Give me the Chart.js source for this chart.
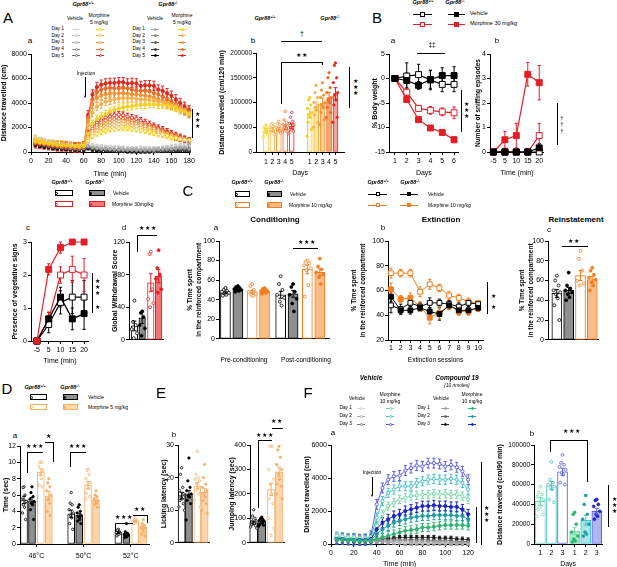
<!DOCTYPE html>
<html>
<head>
<meta charset="utf-8">
<script src="https://cdn.jsdelivr.net/npm/chart.js"></script>
<style>
  body { margin: 0; background: #fff; }
  #fig { position: relative; width: 617px; height: 567px; overflow: hidden; background: #fff;
         font-family: 'Liberation Sans', Arial, sans-serif; color: #000; }
  #fig canvas { position: absolute; }
  .tx { position: absolute; white-space: nowrap; line-height: 1; }
  sup { font-size: 65%; line-height: 0; vertical-align: 0.5em; }
</style>
</head>
<body>
<div id="fig"></div>
<script>
// ---------- data : panel A (morphine 5 mg/kg locomotion) ----------
const timeA = [5,10,15,20,25,30,35,40,45,50,55,60,65,70,75,80,85,90,95,100,105,110,115,120,125,130,135,140,145,150,155,160,165,170,175,180];
const aMorKO = [
  [900,800,750,700,650,600,550,550,500,500,450,500,1500,2300,2700,2900,3100,3300,3450,3550,3650,3700,3750,3800,3850,3850,3900,3900,3850,3850,3800,3700,3600,3400,3300,3100],
  [1000,850,800,700,650,600,600,550,500,450,450,550,2200,3200,3700,3900,4100,4200,4300,4350,4400,4400,4400,4350,4300,4300,4250,4200,4100,4000,3900,3800,3700,3500,3300,3100],
  [800,750,700,650,600,550,500,500,450,450,400,500,2600,3900,4400,4600,4700,4750,4800,4800,4800,4750,4700,4700,4650,4600,4550,4450,4300,4200,4000,3900,3800,3600,3400,3200],
  [750,700,650,600,550,500,450,450,400,400,400,450,2800,4300,4900,5100,5200,5250,5200,5200,5250,5200,5100,5000,5000,5000,4950,4800,4700,4500,4300,4100,3900,3700,3500,3300],
  [700,650,600,550,500,450,450,400,400,350,350,450,3000,4700,5300,5500,5600,5650,5650,5700,5700,5600,5650,5600,5400,5450,5450,5400,5100,5000,4800,4600,4300,4000,3700,3400]
];
const aMorWT = [
  [1100,950,850,750,700,650,600,550,550,500,500,500,900,1300,1500,1650,1750,1850,1900,1950,1950,1950,1900,1850,1800,1700,1650,1550,1450,1400,1300,1200,1150,1050,1000,950],
  [1000,900,800,700,650,600,550,550,500,450,450,500,1100,1500,1750,1950,2050,2150,2200,2250,2250,2200,2150,2100,2000,1900,1800,1700,1600,1500,1400,1300,1200,1100,1000,950],
  [950,850,750,700,600,550,550,500,450,450,400,450,1200,1700,2000,2200,2300,2400,2450,2500,2500,2450,2400,2300,2200,2100,2000,1900,1750,1600,1500,1350,1250,1100,1000,900],
  [900,800,700,650,600,550,500,450,450,400,400,450,1400,1900,2200,2400,2550,2650,2700,2700,2700,2600,2550,2450,2350,2250,2100,2000,1850,1700,1550,1400,1250,1100,1000,850],
  [850,750,700,600,550,500,450,450,400,400,350,400,1500,2100,2400,2600,2800,2900,3000,3050,3000,2900,2800,2700,2550,2400,2250,2100,1950,1800,1650,1500,1350,1200,1050,900]
];
const aVehWT = [
  [1200,1000,900,800,700,600,550,500,450,400,400,450,600,500,450,400,350,350,300,300,300,250,250,250,300,250,250,200,250,300,350,400,450,500,500,450],
  [1100,950,850,750,650,600,500,450,400,400,350,400,550,450,400,350,300,300,250,250,250,250,200,200,250,200,200,200,200,250,300,350,400,450,400,400],
  [1000,900,800,700,600,550,500,450,400,350,350,350,450,400,350,300,250,250,250,200,200,200,200,200,200,200,150,150,200,200,250,300,300,350,300,300],
  [900,800,700,600,550,500,450,400,350,350,300,300,400,350,300,250,250,200,200,200,150,150,150,150,150,150,150,150,150,200,200,250,250,250,250,200],
  [850,750,650,600,500,450,400,350,350,300,300,300,350,300,250,250,200,200,150,150,150,150,150,100,150,100,100,150,150,150,150,200,200,200,200,150]
];
const aVehKO = [
  [800,700,650,550,500,450,400,400,350,300,300,350,500,400,350,300,300,250,250,250,200,200,200,200,200,200,200,200,250,250,300,300,350,400,400,350],
  [750,650,600,500,450,400,400,350,300,300,250,300,450,350,300,250,250,200,200,200,200,150,150,150,150,150,150,150,200,200,200,250,250,300,300,250],
  [700,600,550,500,400,400,350,300,300,250,250,250,400,300,250,200,200,200,150,150,150,150,150,100,100,100,100,100,150,150,150,150,200,200,200,200],
  [650,550,500,450,400,350,300,300,250,250,200,250,350,250,200,200,150,150,150,100,100,100,100,100,100,100,100,100,100,100,150,150,150,150,150,150],
  [600,500,450,400,350,300,300,250,250,200,200,200,300,200,150,150,100,100,100,100,100,50,50,50,50,50,50,100,100,100,100,100,100,100,100,100]
];
const aSemMor = [300, 320, 340, 360, 380];
const aSemVeh = [200, 180, 160, 150, 130];

// panel A b : total distance per day
const abDays = ['1','2','3','4','5','1','2','3','4','5'];
const abVal = [43000, 45000, 46000, 50000, 52000, 78000, 92000, 99000, 110000, 118000];
const abSem = [4000, 4000, 4000, 5000, 5000, 9000, 9000, 10000, 10000, 12000];
const abPts = [
  [55000,52000,50000,48000,45000,42000,40000,38000,35000,30000],
  [58000,55000,52000,50000,47000,45000,42000,40000,35000],
  [62000,58000,55000,50000,47000,45000,42000,40000,38000,35000],
  [82000,65000,60000,55000,52000,50000,48000,45000,42000,40000],
  [80000,70000,62000,58000,55000,50000,48000,45000,42000,38000],
  [110000,105000,95000,88000,80000,75000,70000,60000,45000,32000],
  [135000,120000,110000,100000,95000,90000,85000,75000,60000,50000],
  [140000,125000,115000,110000,100000,95000,90000,80000,65000,55000],
  [160000,150000,130000,120000,110000,105000,100000,90000,80000,70000],
  [180000,175000,150000,140000,120000,115000,105000,95000,70000,60000]
];

// ---------- panel B : naloxone-precipitated withdrawal ----------
const bDays = [1, 2, 3, 4, 5, 6];
const baVehWT = [0, 0.5, 0.8, -0.3, -1.2, -1.2];
const baVehKO = [0, -0.4, -1.4, -0.2, 0.6, 0.6];
const baMorWT = [0, -2.8, -6.1, -6.5, -6.8, -7.0];
const baMorKO = [0, -4.3, -8.4, -10.1, -11.0, -12.5];
const baSem = { vehWT: [0, 2.7, 2.1, 2.0, 1.5, 1.5], vehKO: [0, 1.5, 0.8, 1.8, 1.6, 1.8], morWT: [0, 0.7, 0.6, 0.8, 0.8, 1.2], morKO: [0, 0.5, 0.3, 0.4, 0.5, 0.6] };
const bTimes = ['-5', '5', '10', '15', '20'];
const bbVehWT = [0, 0, 0, 0, 0];
const bbVehKO = [0, 0, 0, 0, 0.17];
const bbMorWT = [0, 0, 0, 0, 0.67];
const bbMorKO = [0, 0.5, 0.67, 3.17, 2.83];
const bbSem = { vehKO: [0, 0, 0, 0, 0.17], morWT: [0, 0, 0, 0, 0.5], morKO: [0, 0.34, 0.5, 0.48, 0.7] };
const bcVehWT = [0, 0.5, 1.17, 1.33, 1.33];
const bcVehKO = [0, 0.67, 1.33, 0.67, 0.83];
const bcMorWT = [0, 0.67, 2.0, 2.17, 2.0];
const bcMorKO = [0, 2.17, 2.83, 3, 3];
const bcSem = { vehWT: [0, 0.25, 0.35, 0.5, 0.5], vehKO: [0, 0.2, 0.3, 0.33, 0.48], morWT: [0, 0.2, 0.25, 0.4, 0.5], morKO: [0, 0.17, 0.17, 0, 0] };
const bdVal = [17, 27, 70, 78];
const bdSem = [6, 7, 11, 8];
const bdPts = [[48, 22, 18, 13, 8, 2], [35, 33, 28, 18, 14, 5], [108, 105, 62, 50, 45, 40], [110, 88, 80, 75, 62, 58]];

// ---------- panel C : conditioned place preference ----------
const caVal = [47, 50, 48, 48, 45, 46, 71, 68];
const caSem = [1, 1, 1.5, 1, 3.5, 3.5, 4.5, 3.5];
const caPts = [
  [52, 50, 49, 48, 47, 46, 45, 44], [54, 53, 52, 51, 50, 50, 49, 48], [56, 54, 50, 48, 46, 45, 44], [52, 51, 50, 49, 48, 48, 47, 46],
  [64, 56, 50, 45, 42, 38, 34], [56, 53, 48, 45, 41, 36, 28], [80, 79, 77, 75, 72, 70, 55, 43], [82, 74, 71, 68, 66, 63, 56]
];
const cbSessions = [1, 2, 3, 4, 5, 6, 7, 8, 9, 10];
const cbMorWT = [74, 74, 74, 59, 65, 62, 56, 54, 51, 50];
const cbMorKO = [61, 53, 54, 47, 38, 42, 48, 43, 43, 46];
const cbVehWT = [48, 45, 50, 47, 50, 50, 49, 47, 50, 49];
const cbVehKO = [55, 44, 44, 46, 43, 41, 48, 44, 44, 46];
const cbSem = { morWT: [4, 3, 3, 4, 4, 3, 3, 3, 3, 2], morKO: [5, 3, 4, 4, 5, 5, 3, 3, 3, 3], vehWT: [6, 4, 3, 3, 4, 3, 3, 3, 2, 2], vehKO: [4, 3, 3, 3, 3, 5, 3, 3, 3, 3] };
const ccVal = [47, 50, 65, 61];
const ccSem = [4, 3, 5, 3];
const ccPts = [[65, 60, 55, 50, 48, 46, 42, 35, 20], [68, 55, 52, 50, 48, 46, 43, 40], [90, 82, 70, 60, 57, 55], [73, 70, 66, 63, 61, 58, 55, 50]];

// ---------- panel D : hot plate ----------
const dTemps = ['46°C', '50°C', '52°C'];
const daVal = [5.4, 5.3, 8.8, 5.9, 3.7, 3.5, 7.2, 5.4, 1.4, 1.2, 2.8, 2.0];
const daSem = [0.45, 0.4, 0.4, 0.55, 0.45, 0.25, 0.45, 0.25, 0.1, 0.15, 0.1, 0.2];
const daPts = [
  [7, 6.9, 6, 5.5, 5.2, 4.8, 4.5, 3.8, 3.0], [7.0, 6.3, 5.8, 5.5, 5.2, 5.0, 4.8, 4.2, 3.0], [10, 10, 10, 9.5, 9, 8.5, 8, 7.2, 7.0], [8, 7.5, 7, 6.5, 6, 5.5, 5, 4, 3.5],
  [6.3, 5, 4.8, 4.2, 3.8, 3.5, 3.2, 2.5, 1.8], [4.8, 4.5, 4, 3.8, 3.5, 3.3, 3, 2.8, 2.5], [9.2, 9.0, 8.5, 8.0, 7.5, 7.2, 6.8, 6.2, 5.8, 5.5], [6.5, 6.0, 5.8, 5.5, 5.3, 5.2, 5.0, 4.8, 4.5],
  [1.8, 1.7, 1.5, 1.4, 1.3, 1.2, 1.2, 1.0], [2.5, 1.5, 1.3, 1.2, 1.1, 1.0, 0.9, 0.8], [3.2, 3.0, 2.9, 2.8, 2.8, 2.7, 2.6, 2.5], [3.0, 2.5, 2.3, 2.1, 2.0, 1.8, 1.5, 1.2, 1.0]
];

// ---------- panel E : tail / jumping ----------
const elVal = [14.5, 15, 17.5, 15.5];
const elSem = [1, 1, 1, 1.2];
const elPts = [[23, 21, 17, 16, 15, 14, 13.5, 13, 12, 11, 10], [26, 19, 17, 16, 15, 14.5, 14, 13, 12, 7], [28, 21, 20, 19.5, 19, 18, 17, 16, 15, 13, 11], [24, 20, 18, 17, 16, 15, 14, 13, 12, 10, 9]];
const ejVal = [82, 88, 218, 290];
const ejSem = [6, 5, 25, 20];
const ejPts = [[135, 110, 100, 95, 90, 85, 80, 75, 70, 65, 60], [105, 100, 95, 92, 88, 85, 80, 75, 72, 68], [395, 395, 395, 300, 260, 240, 200, 180, 160, 100, 60, 30], [395, 380, 350, 320, 300, 280, 260, 240, 230, 200, 180]];

// ---------- panel F : compound 19 ----------
const timeF = [5,10,15,20,25,30,35,40,45,50,55,60,65,70,75,80,85,90,95,100,105,110,115,120];
const fVehMor = [
  [500,450,400,400,350,350,400,1100,1800,2300,2500,2700,2800,2900,2950,3000,3000,3050,3000,3050,3000,3000,2900,2700],
  [400,350,300,350,300,300,400,1600,2600,3100,3300,3500,3500,3500,3700,3800,3900,3950,3900,3900,3950,3900,3700,3300],
  [300,350,300,300,250,300,500,2400,3400,3900,4100,4150,4450,4600,4750,4700,4900,4900,4850,4700,4800,4650,4400,3900]
];
const fC19Mor = [
  [250,250,200,200,200,200,200,300,400,500,600,700,800,850,900,1000,1000,1050,1100,1150,1150,1150,1150,1100],
  [300,250,250,250,200,200,250,600,900,1100,1300,1400,1500,1600,1650,1700,1700,1750,1750,1750,1750,1700,1700,1500],
  [300,300,250,250,250,250,300,900,1300,1500,1700,1800,2000,2100,2200,2300,2300,2350,2300,2300,2250,2250,2100,1800]
];
const fVehVeh = [
  [500,450,400,400,350,350,300,250,200,150,150,150,100,100,100,100,100,100,100,100,100,100,100,100],
  [450,400,350,350,300,300,300,200,150,150,100,100,100,100,100,50,50,100,100,50,50,50,50,50],
  [400,350,300,300,250,250,250,200,150,100,100,100,50,50,50,50,50,50,50,50,50,50,50,50]
];
const fC19Veh = [
  [350,300,300,250,250,200,200,150,150,150,200,200,200,150,150,150,150,150,150,150,100,100,100,100],
  [300,300,250,250,200,200,200,200,250,250,250,250,250,250,250,250,250,200,200,200,200,150,150,150],
  [300,250,250,200,200,200,250,300,350,350,350,400,400,400,400,400,400,400,350,350,350,300,300,250]
];
const fSemMor = [250, 280, 300];
const fSemVeh = [120, 120, 120];
const fbDays = ['1', '2', '3', '1', '2', '3'];
const fbVal = [43000, 59000, 73000, 13000, 24000, 33000];
const fbSem = [4000, 4000, 3500, 3500, 5000, 3000];
const fbPts = [
  [58000,52000,50000,48000,45000,40000,38000,35000,30000,28000],
  [83000,65000,62000,60000,58000,57000,55000,45000,42000],
  [90000,82000,80000,78000,75000,72000,70000,62000,60000],
  [32000,30000,20000,12000,8000,5000,3000,2000],
  [49000,40000,30000,25000,20000,12000,10000,8000],
  [45000,44000,40000,38000,33000,30000,28000,25000]
];

// ---------- colours ----------
const dayCols = ['#f5cf1d', '#f5b04a', '#f39232', '#ee6a26', '#e3261f'];
const vehWtCols = ['#d6d6d6', '#bfbfbf', '#a5a5a5', '#8c8c8c', '#727272'];
const vehKoCols = ['#a8a8a8', '#878787', '#5c5c5c', '#333333', '#000000'];
const RED = '#e41e26', REDF = '#f37474';
const OR = '#f47d20', ORF = '#fbbd86';
const OR5 = '#f6b06a', OR5F = '#fcd7ae';
const GRY = '#8f8f8f';
const fOpen = ['#72d9a6', '#48c2c4', '#5c5cea'];
const fFill = ['#2db673', '#1c9ea4', '#1d24c6'];
const fGrayO = ['#cfcfcf', '#a9a9a9', '#7a7a7a'];
const fGrayF = ['#a0a0a0', '#5e5e5e', '#1a1a1a'];

// ---------- helpers ----------
Chart.defaults.font.family = "'Liberation Sans', Arial, sans-serif";
Chart.defaults.color = '#000';
const fig = document.getElementById('fig');

// error bars drawn from a dataset's sem values
const errorBars = {
  id: 'errorBars',
  beforeDatasetsDraw(chart) { drawErr(chart, false); },
  afterDatasetsDraw(chart) { drawErr(chart, true); }
};
function drawErr(chart, after) {
  const ctx = chart.ctx, ys = chart.scales.y;
  chart.data.datasets.forEach((ds, i) => {
    if (!ds.sem || !!ds.errAfter !== after) return;
    const meta = chart.getDatasetMeta(i);
    ctx.save();
    ctx.lineWidth = 1;
    meta.data.forEach((el, j) => {
      const e = Array.isArray(ds.sem) ? ds.sem[j] : ds.sem;
      if (!e) return;
      const v = ds.data[j].y;
      ctx.strokeStyle = Array.isArray(ds.borderColor) ? ds.borderColor[j] : ds.borderColor;
      const x = el.x, y1 = ys.getPixelForValue(v + e), y2 = ys.getPixelForValue(v - e), c = ds.cap || 1.5;
      ctx.beginPath();
      ctx.moveTo(x, y1); ctx.lineTo(x, y2);
      ctx.moveTo(x - c, y1); ctx.lineTo(x + c, y1);
      ctx.moveTo(x - c, y2); ctx.lineTo(x + c, y2);
      ctx.stroke();
    });
    ctx.restore();
  });
}

function axis(o, size) {
  const a = {
    type: 'linear', min: o.min, max: o.max, offset: false,
    afterFit: s => { if (s.isHorizontal()) s.height = size; else s.width = size; },
    grid: { display: true, offset: false, drawOnChartArea: false, drawTicks: !o.noTicks, tickLength: 3, color: '#000' },
    border: { display: true, color: '#000', width: 1 },
    ticks: { display: !o.noTicks, color: '#000', font: { size: o.fs || 7 }, padding: o.tpad || 1,
             maxRotation: 0, autoSkip: false, stepSize: o.step, callback: v => String(v) },
    title: { display: !!o.title, text: o.title || '', color: '#000', padding: 0,
             font: { size: o.tfs || 7, weight: o.tw || 'bold', lineHeight: o.tlh || 1.2 } }
  };
  if (o.ticks) a.afterBuildTicks = s => { s.ticks = o.ticks.map(v => ({ value: v })); };
  if (o.labels) a.ticks.callback = (v, i) => o.labels[i];
  return a;
}

// area = plot box [left, top, right, bottom]; pad = [yAxisWidth, top, right, xAxisHeight]
function mkChart(area, pad, type, datasets, xo, yo) {
  const [l, t, r, b] = area;
  const w = r - l + pad[0] + pad[2], h = b - t + pad[1] + pad[3];
  const cv = document.createElement('canvas');
  cv.width = w; cv.height = h;
  cv.style.left = (l - pad[0]) + 'px'; cv.style.top = (t - pad[1]) + 'px';
  cv.style.width = w + 'px'; cv.style.height = h + 'px';
  fig.appendChild(cv);
  return new Chart(cv, {
    type: type,
    data: { datasets: datasets },
    options: {
      responsive: false, maintainAspectRatio: false, animation: false,
      layout: { padding: { left: 0, top: pad[1], right: pad[2], bottom: 0 } },
      plugins: { legend: { display: false }, tooltip: { enabled: false } },
      scales: { x: axis(xo, pad[3]), y: axis(yo, pad[0]) }
    },
    plugins: [errorBars]
  });
}

function lineDs(xs, ys, col, filled, shape, r, sem, lw) {
  return {
    type: 'line', data: xs.map((x, i) => ({ x: x, y: ys[i] })),
    borderColor: col, backgroundColor: filled ? col : '#fff',
    pointBackgroundColor: filled ? col : '#fff', pointBorderColor: col,
    pointStyle: shape, pointRadius: r, pointBorderWidth: 1, borderWidth: lw || 1,
    sem: sem, cap: 1.6, clip: false, tension: 0
  };
}

function layoutPos(n, per, gGap, pGap) {
  return Array.from({ length: n }, (_, i) => i + gGap * Math.floor(i / per) + pGap * Math.floor((i % per) / 2));
}
const JIT = [0, -1, 1, -2, 2, -0.5, 0.5, -1.5, 1.5, -2.5, 2.5, 0];
function barSet(pos, vals, sem, fills, borders, thick) {
  return { type: 'bar', data: vals.map((v, i) => ({ x: pos[i], y: v })), backgroundColor: fills, borderColor: borders,
           borderWidth: 1, borderSkipped: false, barThickness: thick, sem: sem, errAfter: true, cap: 2, order: 2, clip: false };
}
function dotSets(pos, pts, spread, fills, borders, r) {
  return pts.map((arr, b) => ({
    type: 'scatter', data: arr.map((v, k) => ({ x: pos[b] + JIT[k % JIT.length] * spread, y: v })),
    pointRadius: r || 1.4, pointBackgroundColor: fills[b], pointBorderColor: borders[b], pointBorderWidth: 0.8,
    order: 1, clip: false
  }));
}

function txt(x, y, s, size, o) {
  o = o || {};
  const d = document.createElement('div');
  d.className = 'tx';
  d.innerHTML = s;
  const al = o.align || 'center';
  const tx = al === 'center' ? '-50%' : (al === 'right' ? '-100%' : '0');
  d.style.cssText = 'left:' + x + 'px;top:' + y + 'px;font-size:' + size + 'px;transform:translate(' + tx + ',-50%)' +
    (o.rot ? ' rotate(' + o.rot + 'deg)' : '') + ';' + (o.css || '');
  fig.appendChild(d);
}
function gpr(x, y, g) { txt(x, y, 'Gpr88<sup>' + g + '</sup>', 5.5, { css: 'font-weight:bold;font-style:italic' }); }
function hl(x1, x2, y, c, w) {
  const d = document.createElement('div');
  w = w || 1;
  d.style.cssText = 'position:absolute;left:' + x1 + 'px;top:' + (y - w / 2) + 'px;width:' + (x2 - x1) + 'px;height:' + w + 'px;background:' + (c || '#000');
  fig.appendChild(d);
}
function vl(x, y1, y2, c, w) {
  const d = document.createElement('div');
  w = w || 1;
  d.style.cssText = 'position:absolute;left:' + (x - w / 2) + 'px;top:' + y1 + 'px;width:' + w + 'px;height:' + (y2 - y1) + 'px;background:' + (c || '#000');
  fig.appendChild(d);
}
function mark(x, y, shape, s, fill, border) {
  const d = document.createElement('div');
  d.style.cssText = 'position:absolute;left:' + (x - s / 2) + 'px;top:' + (y - s / 2) + 'px;width:' + s + 'px;height:' + s +
    'px;box-sizing:border-box;border:1px solid ' + border + ';background:' + fill + ';border-radius:' + (shape === 'circle' ? '50%' : '0');
  fig.appendChild(d);
}
function lbox(x, y, w, h, fill, border, dotFill) {
  const d = document.createElement('div');
  d.style.cssText = 'position:absolute;left:' + x + 'px;top:' + y + 'px;width:' + w + 'px;height:' + h +
    'px;box-sizing:border-box;border:1px solid ' + border + ';background:' + fill;
  fig.appendChild(d);
  mark(x + 1, y + h / 2, 'circle', 3, dotFill, border);
}
function lline(x1, x2, y, col, shape, s, fill) { hl(x1, x2, y, col, 1); mark((x1 + x2) / 2, y, shape, s, fill, col); }
function stars(x, y, s, size) { txt(x, y, s, size || 6, { css: 'letter-spacing:1px' }); }
function vstars(x, y, s, size) { txt(x, y, s.split('').join('<br>'), size || 6, { css: 'line-height:1.05;text-align:center' }); }

// ================= PANEL A =================
txt(8, 17, 'A', 15);
gpr(83, 5, '+/+'); gpr(168, 5, '-/-');
txt(75, 18, 'Vehicle', 5); txt(99, 15, 'Morphine', 5); txt(99, 22, '5 mg/kg', 5);
txt(155, 18, 'Vehicle', 5); txt(182, 15, 'Morphine', 5); txt(182, 22, '5 mg/kg', 5);
for (let d = 0; d < 5; d++) {
  const y = 29 + d * 6.7;
  txt(64, y, 'Day ' + (d + 1), 4.8, { align: 'right' });
  txt(145, y, 'Day ' + (d + 1), 4.8, { align: 'right' });
  lline(72, 80, y, vehWtCols[d], 'circle', 3, '#fff');
  lline(96, 104, y, dayCols[d], 'circle', 3, '#fff');
  lline(151, 159, y, vehKoCols[d], 'circle', 3, vehKoCols[d]);
  lline(178, 186, y, dayCols[d], 'circle', 3, dayCols[d]);
}
txt(30, 41, 'a', 8);
const aDs = [];
aMorKO.forEach((ys, d) => aDs.push(lineDs(timeA, ys, dayCols[d], true, 'circle', 1.6, aSemMor[d], 0.8)));
aMorWT.forEach((ys, d) => aDs.push(lineDs(timeA, ys, dayCols[d], false, 'circle', 1.6, aSemMor[d] * 0.7, 0.8)));
aVehKO.forEach((ys, d) => aDs.push(lineDs(timeA, ys, vehKoCols[d], true, 'circle', 1.4, aSemVeh[d], 0.8)));
aVehWT.forEach((ys, d) => aDs.push(lineDs(timeA, ys, vehWtCols[d], false, 'circle', 1.4, aSemVeh[d], 0.8)));
mkChart([31, 54, 189, 152], [31, 6, 8, 26], 'line', aDs,
  { min: 0, max: 180, step: 20, title: 'Time (min)', tw: 'normal', tpad: 2 },
  { min: 0, max: 8000, step: 2000, title: 'Distance travelled (cm)' });
txt(86, 73, 'Injection', 5);
vl(85, 77, 96); txt(85, 97, '&#9660;', 4);
vl(192, 109, 138); vstars(197, 121, '★★★', 5.5);
vl(188, 140, 151, '#999');

// A b
gpr(265, 19, '+/+'); gpr(330, 19, '-/-');
txt(253, 41, 'b', 8);
txt(302, 33, '†', 7);
hl(281, 322, 41);
stars(302, 55, '★★', 6);
hl(281, 322, 62); vl(281, 62, 104); vl(322, 62, 65);
vl(349, 67, 108); vstars(355, 88, '★★★', 5.5);
const abPos = layoutPos(10, 5, 1.8, 0);
const abFill = ['#fffdf7', '#fffaf2', '#fff8f0', '#fff6ef', '#fff5f4', '#fff6dc', '#fde5a8', '#fccf98', '#f9a965', '#f5a39b'];
const abBord = dayCols.concat(dayCols);
const abDotF = ['#fff', '#fff', '#fff', '#fff', '#fff'].concat(dayCols);
mkChart([256, 53, 345, 152], [38, 6, 4, 25], 'bar',
  [barSet(abPos, abVal, abSem, abFill, abBord, 5)].concat(dotSets(abPos, abPts, 0.17, abDotF, abBord, 1.2)),
  { min: -1.54, max: 12.15, ticks: abPos, labels: abDays, title: 'Days', tw: 'normal', tpad: 3 },
  { min: 0, max: 200000, step: 50000, fs: 6.5, title: 'Distance travelled (cm/120 min)' });

// ================= PANEL B =================
txt(377, 17, 'B', 15);
gpr(423, 3, '+/+'); gpr(455, 3, '-/-');
lline(413, 432, 14, '#000', 'square', 5, '#fff'); lline(448, 465, 14, '#000', 'square', 5, '#000');
txt(470, 14, 'Vehicle', 5.5, { align: 'left' });
lline(413, 432, 24, RED, 'square', 5, '#fff'); lline(448, 465, 24, RED, 'square', 5, RED);
txt(470, 24, 'Morphine 30 mg/kg', 5.5, { align: 'left' });

txt(393, 41, 'a', 8);
txt(432, 45, '‡‡', 6.5);
hl(417, 445, 53);
mkChart([389, 54, 460, 152], [18, 6, 4, 25], 'line', [
  lineDs(bDays, baVehKO, '#000', true, 'rect', 4.2, baSem.vehKO, 1.2),
  lineDs(bDays, baVehWT, '#000', false, 'rect', 4.2, baSem.vehWT, 1.2),
  lineDs(bDays, baMorKO, RED, true, 'rect', 4.2, baSem.morKO, 1.2),
  lineDs(bDays, baMorWT, RED, false, 'rect', 4.2, baSem.morWT, 1.2)
], { min: 0.5, max: 6.4, ticks: bDays, title: 'Days', tw: 'normal', tpad: 2 },
   { min: -15, max: 5, step: 5, title: '% Body weight' });
vl(461, 90, 132); vstars(466, 111, '★★★', 5.5);

txt(497, 41, 'b', 8);
const bIdx = [0, 1, 2, 3, 4];
mkChart([490, 54, 545, 152], [16, 6, 4, 25], 'line', [
  lineDs(bIdx, bbVehKO, '#000', true, 'rect', 4.2, bbSem.vehKO, 1.2),
  lineDs(bIdx, bbMorKO, RED, true, 'rect', 4.2, bbSem.morKO, 1.2),
  lineDs(bIdx, bbVehWT, '#000', false, 'rect', 4.2, 0, 1.2),
  lineDs(bIdx, bbMorWT, RED, false, 'rect', 4.2, bbSem.morWT, 1.2)
], { min: -0.3, max: 4.4, ticks: bIdx, labels: bTimes, title: 'Time (min)', tw: 'normal', tpad: 2 },
   { min: 0, max: 4, step: 1, title: 'Number of sniffing episodes', tfs: 6.5 });
vl(557, 103, 145); vstars(562, 124, '†††', 6);

// B c / d legend
gpr(62, 183, '+/+'); gpr(95, 183, '-/-');
lbox(55, 190, 18, 6, '#fff', '#000', '#fff'); lbox(89, 190, 16, 6, GRY, '#000', '#000');
txt(113, 193, 'Vehicle', 5, { align: 'left' });
lbox(55, 201, 18, 6, '#fff', RED, '#fff'); lbox(89, 201, 16, 6, REDF, RED, RED);
txt(112, 204, 'Morphine 30mg/kg', 5, { align: 'left' });

txt(28, 228, 'c', 8);
mkChart([31, 242, 90, 341], [20, 6, 4, 24], 'line', [
  lineDs(bIdx, bcMorKO, RED, true, 'rect', 4.2, bcSem.morKO, 1.2),
  lineDs(bIdx, bcVehKO, '#000', true, 'rect', 4.2, bcSem.vehKO, 1.2),
  lineDs(bIdx, bcVehWT, '#000', false, 'rect', 4.2, bcSem.vehWT, 1.2),
  lineDs(bIdx, bcMorWT, RED, false, 'rect', 4.2, bcSem.morWT, 1.2)
], { min: -0.5, max: 4.4, ticks: bIdx, labels: bTimes, title: 'Time (min)', tw: 'normal', tpad: 2 },
   { min: 0, max: 3, step: 1, title: 'Presence of vegetative signs' });
vl(92, 273, 313); vstars(97, 288, '★★★', 5.5); txt(97, 308, '★', 5.5);

txt(124, 228, 'd', 8);
stars(148, 229, '★★★', 5.5);
hl(137, 157, 235); vl(137, 235, 252);
const bdPos = layoutPos(4, 4, 0, 0.1);
mkChart([129, 242, 164, 341], [18, 6, 4, 4], 'bar',
  [barSet(bdPos, bdVal, bdSem, ['#fff', GRY, '#fff', REDF], ['#000', '#000', RED, RED], 6.5)]
    .concat(dotSets(bdPos, bdPts, 0.17, ['#fff', '#000', '#fff', RED], ['#000', '#000', RED, RED], 1.5)),
  { min: -0.69, max: 3.69, noTicks: true },
  { min: 0, max: 120, ticks: [0, 40, 80, 120], title: 'Global Withdrawal Score' });

// ================= PANEL C =================
txt(188, 190, 'C', 15);
gpr(242, 183, '+/+'); gpr(274, 183, '-/-');
lbox(235, 191, 15, 6, '#fff', '#000', '#fff'); lbox(267, 191, 15, 6, GRY, '#000', '#000');
txt(290, 194, 'Vehicle', 5, { align: 'left' });
lbox(235, 202, 15, 6, '#fff', OR, '#fff'); lbox(267, 202, 15, 6, ORF, OR, OR);
txt(289, 205, 'Morphine 10 mg/kg', 5, { align: 'left' });
gpr(378, 183, '+/+'); gpr(410, 183, '-/-');
lline(368, 387, 194, '#000', 'square', 4, '#fff'); lline(400, 418, 194, '#000', 'square', 4, '#000');
txt(428, 194, 'Vehicle', 5, { align: 'left' });
lline(368, 387, 205, OR, 'square', 4, '#fff'); lline(400, 418, 205, OR, 'square', 4, OR);
txt(428, 205, 'Morphine 10 mg/kg', 5, { align: 'left' });

txt(275, 220, 'Conditioning', 8, { css: 'font-weight:bold' });
txt(441, 220, 'Extinction', 8, { css: 'font-weight:bold' });
txt(576, 220, 'Reinstatement', 8, { css: 'font-weight:bold' });

const cTitle = ['% Time spent', 'in the reinforced compartment'];
txt(216, 228, 'a', 8);
stars(307, 243, '★★★', 5.5); hl(293, 318, 248);
const caPos = layoutPos(8, 4, 0.45, 0.15);
mkChart([219, 241, 330, 340], [34, 6, 4, 4], 'bar',
  [barSet(caPos, caVal, caSem, ['#fff', GRY, '#fff', ORF, '#fff', GRY, '#fff', ORF], ['#000', '#000', OR, OR, '#000', '#000', OR, OR], 10)]
    .concat(dotSets(caPos, caPts, 0.14, ['#fff', '#000', '#fff', OR, '#fff', '#000', '#fff', OR], ['#000', '#000', OR, OR, '#000', '#000', OR, OR], 1.5)),
  { min: -0.52, max: 8.36, noTicks: true },
  { min: 0, max: 100, step: 20, title: cTitle, tfs: 6.5, tlh: 1.5 });
txt(244, 360, 'Pre-conditioning', 6.5);
txt(306, 360, 'Post-conditioning', 6.5);

txt(383, 228, 'b', 8);
mkChart([388, 241, 484, 340], [39, 6, 4, 24], 'line', [
  lineDs(cbSessions, cbVehKO, '#000', true, 'rect', 3.4, cbSem.vehKO, 1),
  lineDs(cbSessions, cbVehWT, '#000', false, 'rect', 3.4, cbSem.vehWT, 1),
  lineDs(cbSessions, cbMorKO, OR, true, 'rect', 3.4, cbSem.morKO, 1),
  lineDs(cbSessions, cbMorWT, OR, false, 'rect', 3.4, cbSem.morWT, 1)
], { min: 0.69, max: 10.5, ticks: cbSessions, title: 'Extinction sessions', tw: 'normal', tfs: 6.5 },
   { min: 20, max: 100, step: 20, title: cTitle, tfs: 6.5, tlh: 1.5 });
vl(487, 282, 314); txt(493, 297, '★', 5.5); txt(493, 308, '★', 5.5);

txt(549, 230, 'c', 8);
stars(574, 242, '★★', 5.5); hl(562, 588, 246);
const ccPos = layoutPos(4, 4, 0, 0);
mkChart([548, 241, 599, 341], [31, 6, 4, 4], 'bar',
  [barSet(ccPos, ccVal, ccSem, ['#fff', GRY, '#fff', ORF], ['#000', '#000', OR, OR], 10)]
    .concat(dotSets(ccPos, ccPts, 0.14, ['#fff', '#000', '#fff', OR], ['#000', '#000', OR, OR], 1.5)),
  { min: -0.75, max: 3.5, noTicks: true },
  { min: 0, max: 100, step: 20, title: cTitle, tfs: 6.5, tlh: 1.5 });

// ================= PANEL D =================
txt(7, 388, 'D', 15);
gpr(35, 388, '+/+'); gpr(70, 388, '-/-');
lbox(30, 394, 17, 6, '#fff', '#000', '#fff'); lbox(63, 394, 15, 6, GRY, '#000', '#000');
txt(88, 397, 'Vehicle', 5, { align: 'left' });
lbox(30, 404, 17, 6, '#fff', OR5, '#fff'); lbox(63, 404, 15, 6, OR5F, OR5, OR5);
txt(88, 407, 'Morphine 5 mg/kg', 5, { align: 'left' });
txt(15, 436, 'a', 8);
const daPos = layoutPos(12, 4, 1.9, 0.1);
const daTicks = [0, 1, 2].map(g => (daPos[g * 4] + daPos[g * 4 + 3]) / 2);
const dFill = [], dBord = [], dDotF = [];
for (let g = 0; g < 3; g++) {
  dFill.push('#fff', GRY, '#fff', OR5F);
  dBord.push('#000', '#000', OR5, OR5);
  dDotF.push('#fff', '#000', '#fff', OR5);
}
mkChart([20, 446, 150, 544], [18, 6, 4, 18], 'bar',
  [barSet(daPos, daVal, daSem, dFill, dBord, 7)].concat(dotSets(daPos, daPts, 0.13, dDotF, dBord, 1.2)),
  { min: -0.5, max: 15.65, ticks: daTicks, labels: dTemps, tpad: 5 },
  { min: 0, max: 12, step: 2, title: 'Time (sec)' });
stars(35, 447, '★★★', 5.5); hl(27, 43, 452); vl(27, 452, 473);
stars(49, 437, '★', 5.5); hl(45, 53, 442); vl(53, 442, 462);
stars(78, 447, '★★★', 5.5); hl(70, 86, 452); vl(70, 452, 467);
stars(124, 518, '★★★', 5.5); hl(115, 133, 523); vl(115, 523, 532);
stars(140, 510, '★★', 5.5); hl(133, 147, 515); vl(147, 515, 523);

// ================= PANEL E =================
txt(161, 392, 'E', 15);
txt(174, 435, 'b', 8);
const ePos = layoutPos(4, 4, 0, 0.15);
const eFill = ['#fff', GRY, '#fff', OR5F], eBord = ['#000', '#000', OR5, OR5], eDotF = ['#fff', '#000', '#fff', OR5];
mkChart([178, 445, 212, 544], [18, 6, 2, 4], 'bar',
  [barSet(ePos, elVal, elSem, eFill, eBord, 7)].concat(dotSets(ePos, elPts, 0.15, eDotF, eBord, 1.2)),
  { min: -0.5, max: 3.78, noTicks: true },
  { min: 0, max: 30, step: 10, title: 'Licking latency (sec)' });
mkChart([250, 445, 287, 544], [22, 6, 2, 4], 'bar',
  [barSet(ePos, ejVal, ejSem, eFill, eBord, 8)].concat(dotSets(ePos, ejPts, 0.15, eDotF, eBord, 1.2)),
  { min: -0.46, max: 3.78, noTicks: true },
  { min: 0, max: 400, step: 100, title: 'Jumping latency (sec)' });
stars(265, 436, '★★★', 5.5); hl(258, 272, 440); vl(258, 440, 508);
stars(277, 422, '★★', 5.5); hl(272, 283, 428);

// ================= PANEL F =================
txt(308, 392, 'F', 15);
txt(371, 378, 'Vehicle', 6.5, { css: 'font-weight:bold;font-style:italic' });
txt(457, 378, 'Compound 19', 6.5, { css: 'font-weight:bold;font-style:italic' });
txt(457, 386, '(10 nmoles)', 4.8, { css: 'font-style:italic' });
txt(357, 398, 'Vehicle', 5); txt(390, 394, 'Morphine', 5); txt(390, 401, '10 mg/kg', 5);
txt(441, 398, 'Vehicle', 5); txt(472, 394, 'Morphine', 5); txt(472, 401, '10 mg/kg', 5);
for (let d = 0; d < 3; d++) {
  const y = 408 + d * 8;
  txt(352, y, 'Day ' + (d + 1), 4.8, { align: 'right' });
  txt(430, y, 'Day ' + (d + 1), 4.8, { align: 'right' });
  lline(357, 365, y, fGrayO[d], 'circle', 3, '#fff');
  lline(386, 394, y, fOpen[d], 'circle', 3, '#fff');
  lline(441, 449, y, fGrayF[d], 'circle', 3, fGrayF[d]);
  lline(468, 476, y, fFill[d], 'circle', 3, fFill[d]);
}
txt(333, 433, 'a', 8);
const fDs = [];
fC19Mor.forEach((ys, d) => fDs.push(lineDs(timeF, ys, fFill[d], true, 'circle', 1.6, fSemMor[d], 1)));
fVehMor.forEach((ys, d) => fDs.push(lineDs(timeF, ys, fOpen[d], false, 'circle', 1.6, fSemMor[d], 1)));
fC19Veh.forEach((ys, d) => fDs.push(lineDs(timeF, ys, fGrayF[d], true, 'circle', 1.3, fSemVeh[d], 0.8)));
fVehVeh.forEach((ys, d) => fDs.push(lineDs(timeF, ys, fGrayO[d], false, 'circle', 1.3, fSemVeh[d], 0.8)));
mkChart([331, 445, 470, 544], [28, 6, 6, 24], 'line', fDs,
  { min: 0, max: 120, step: 20, title: 'Time (min)', tw: 'normal', tpad: 2 },
  { min: 0, max: 6000, step: 2000, title: 'Distance travelled (cm)' });
txt(372, 472, 'Injection', 5);
vl(372, 477, 495); txt(372, 496, '&#9660;', 4);
vl(481, 462, 545); vl(476, 507, 543); vstars(486, 515, '★★★', 5.5);

txt(532, 434, 'b', 8);
stars(572, 431, '★★★', 6);
hl(550, 587, 440); vl(550, 440, 452); vl(587, 440, 482);
const fbPos = layoutPos(6, 3, 0.1, 0);
const fbFill = ['#fff', '#fff', '#fff', '#a9ebc9', '#a6e6ea', '#b3b5f3'];
const fbBord = fOpen.concat(fOpen);
mkChart([534, 445, 603, 544], [38, 6, 4, 24], 'bar',
  [barSet(fbPos, fbVal, fbSem, fbFill, fbBord, 10)]
    .concat(dotSets(fbPos, fbPts, 0.14, ['#fff', '#fff', '#fff'].concat(fFill), fOpen.concat(fFill), 1.4)),
  { min: -0.58, max: 5.59, ticks: fbPos, labels: fbDays, title: 'Days', tw: 'normal', tpad: 2 },
  { min: 0, max: 100000, step: 20000, fs: 6.5, title: 'Distance travelled (cm/90 min)' });
vl(608, 485, 527); vstars(614, 506, '★★★', 5.5);
</script>
</body>
</html>
